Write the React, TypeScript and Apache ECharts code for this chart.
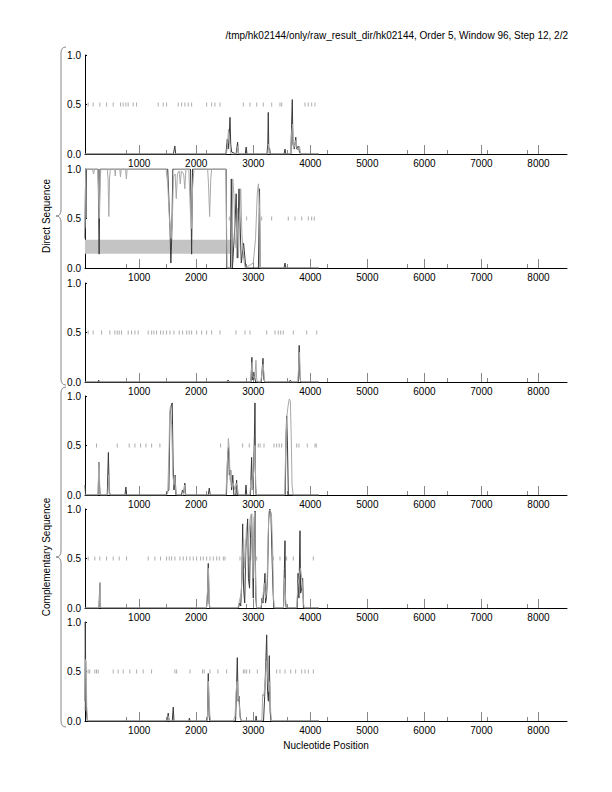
import React, { useEffect, useRef } from "react";
import * as echarts from "echarts";

const titleText = "/tmp/hk02144/only/raw_result_dir/hk02144, Order 5, Window 96, Step 12, 2/2";
const xTitle = "Nucleotide Position";
const groupLabels = ["Direct Sequence", "Complementary Sequence"];
const xMin = 50;
const xMax = 8500;
const majorTicks = [1000, 2000, 3000, 4000, 5000, 6000, 7000, 8000];
const minorTicks = [779, 1481, 2183, 2885, 3587, 4289, 4991, 5693, 6395, 7097, 7799];

const p1Dark = [[50,0],[1600,0],[1625,0.08],[1640,0],[2520,0],[2545,0.15],[2560,0.05],[2580,0.2],[2592,0.37],[2605,0.1],[2620,0.02],[2700,0],[2725,0.12],[2740,0],[2860,0],[2875,0.07],[2890,0],[3240,0],[3255,0.1],[3263,0.42],[3272,0.05],[3285,0.06],[3300,0],[3540,0],[3556,0.05],[3570,0],[3660,0],[3672,0.3],[3684,0.55],[3695,0.1],[3720,0.05],[3745,0.17],[3760,0.05],[3790,0.08],[3810,0.02],[3830,0],[4150,0]];
const p1Light = [[50,0],[2530,0],[2550,0.1],[2565,0.25],[2585,0.12],[2600,0.03],[2610,0],[2710,0],[2730,0.08],[2745,0],[3260,0],[3268,0.1],[3280,0.04],[3290,0],[3650,0],[3670,0.2],[3690,0.3],[3705,0.05],[3730,0.1],[3750,0.14],[3770,0.04],[3790,0.06],[3810,0.08],[3830,0],[4150,0]];
const p1Marks = [105,193,310,428,544,673,719,767,807,895,954,1333,1421,1480,1684,1743,1802,1860,1919,2182,2270,2328,2416,2825,2942,3060,3175,3323,3468,3498,3907,3965,4024,4082];

const p2Dark = [[50,0.3],[58,0.8],[66,0.5],[75,1.0],[280,1.0],[298,0.14],[312,1.0],[1500,1.0],[1540,0.4],[1555,0.05],[1570,0.3],[1590,1.0],[1900,1.0],[1919,0.14],[1935,1.0],[2525,1.0],[2533,0.0],[2600,0.0],[2615,0.9],[2635,0.0],[2680,0.45],[2700,0.75],[2720,0.1],[2750,0.8],[2790,0.05],[2830,0.25],[2870,0.0],[3090,0.0],[3110,0.8],[3120,0.0],[3540,0],[3556,0.05],[3570,0],[4150,0]];
const p2Light = [[50,0.4],[62,1.0],[180,1.0],[200,0.95],[220,1.0],[270,1.0],[285,0.85],[298,0.5],[315,0.9],[330,1.0],[440,1.0],[455,0.9],[468,0.52],[480,0.9],[495,1.0],[570,1.0],[580,0.93],[590,1.0],[660,1.0],[672,0.92],[684,1.0],[760,1.0],[775,0.9],[790,1.0],[1470,1.0],[1500,0.85],[1530,0.5],[1560,0.3],[1580,0.45],[1600,0.92],[1630,0.95],[1650,0.7],[1670,0.95],[1700,0.98],[1720,0.85],[1740,0.98],[1780,0.95],[1800,0.8],[1820,1.0],[1870,1.0],[1895,0.6],[1915,0.4],[1935,0.8],[1960,1.0],[2200,1.0],[2215,0.85],[2235,0.52],[2255,0.9],[2270,1.0],[2520,1.0],[2540,0.0],[2620,0.0],[2640,0.9],[2660,0.75],[2680,0.3],[2700,0.2],[2720,0.6],[2740,0.1],[2760,0.5],[2780,0.8],[2800,0.35],[2830,0.1],[2860,0.0],[3000,0.05],[3040,0.3],[3070,0.75],[3090,0.85],[3110,0.6],[3125,0.0],[4150,0]];
const p2Marks = [2580,2737,2884,3147,3322,3614,3731,3849,3965,4024,4070];
const p2Band = [[50, 0.143], [2630, 0.286]];

const p3Dark = [[50,0],[280,0],[290,0.02],[300,0],[2540,0],[2560,0.02],[2580,0],[2960,0],[2975,0.25],[2990,0.02],[3010,0.1],[3040,0.0],[3140,0],[3170,0.24],[3185,0.03],[3200,0],[3630,0],[3650,0.02],[3670,0],[3790,0],[3805,0.37],[3815,0.08],[3830,0],[4150,0]];
const p3Light = [[50,0],[2950,0],[2965,0.1],[2980,0.2],[2995,0.05],[3030,0.05],[3047,0.22],[3060,0.03],[3080,0],[3130,0],[3150,0.08],[3170,0.18],[3185,0.1],[3200,0],[3780,0],[3800,0.2],[3812,0.3],[3825,0.02],[3840,0],[4150,0]];
const p3Marks = [105,193,340,486,574,615,650,690,807,866,925,982,1158,1218,1258,1305,1375,1421,1480,1539,1609,1702,1761,1832,1877,1919,2007,2095,2182,2270,2416,2696,2854,2942,3235,3381,3439,3481,3526,3702,3937,4112];

const p4Dark = [[50,0.1],[60,0],[280,0],[295,0.33],[305,0.1],[315,0],[440,0],[460,0.43],[475,0.05],[490,0],[750,0],[767,0.08],[780,0],[1470,0],[1490,0.03],[1520,0.05],[1540,0.8],[1560,0.9],[1579,0.93],[1595,0.3],[1610,0.05],[1630,0.2],[1645,0],[1740,0],[1760,0.05],[1780,0.02],[1800,0.12],[1815,0],[2210,0],[2229,0.07],[2245,0],[2530,0],[2550,0.4],[2565,0.48],[2580,0.2],[2600,0.25],[2620,0.05],[2640,0.2],[2660,0],[2695,0],[2708,0.15],[2720,0],[2860,0],[2872,0.1],[2885,0],[2950,0],[2971,0.38],[2985,0.05],[3000,0.1],[3020,0.6],[3030,0.93],[3040,0.1],[3050,0],[3560,0],[3575,0.6],[3585,0.8],[3600,0.5],[3615,0.0],[4150,0]];
const p4Light = [[50,0],[280,0],[290,0.3],[300,0.33],[310,0],[450,0],[465,0.2],[480,0],[1480,0],[1500,0.02],[1525,0.5],[1535,0.85],[1550,0.9],[1570,0.7],[1590,0.2],[1610,0.1],[1625,0.19],[1640,0.05],[1660,0],[1780,0],[1795,0.1],[1810,0],[2520,0],[2545,0.3],[2563,0.57],[2580,0.45],[2595,0.15],[2610,0.25],[2625,0.08],[2650,0.12],[2680,0.05],[2700,0.12],[2720,0.08],[2740,0],[2940,0],[2960,0.15],[2980,0.05],[3010,0.25],[3030,0.5],[3045,0.05],[3060,0],[3550,0],[3570,0.5],[3590,0.8],[3610,0.9],[3630,0.97],[3650,0.95],[3665,0.6],[3680,0.1],[3700,0],[4150,0]];
const p4Marks = [252,615,825,925,1024,1118,1218,1363,2427,2814,2930,3088,3120,3188,3363,3410,3455,3498,3596,3761,3800,3947,4082,4105];

const p5Dark = [[50,0],[295,0],[310,0.25],[320,0],[2180,0],[2195,0.1],[2211,0.45],[2225,0.05],[2240,0],[2740,0],[2760,0.05],[2780,0.02],[2800,0.3],[2814,0.85],[2830,0.2],[2850,0.05],[2870,0.6],[2901,0.9],[2915,0.3],[2935,0.2],[2950,0.7],[2971,0.95],[2985,0.5],[3000,0.1],[3015,0.7],[3030,0.98],[3045,0.1],[3060,0],[3140,0],[3153,0.1],[3170,0.05],[3190,0.2],[3205,0.35],[3215,0.05],[3230,0.1],[3250,0.3],[3270,0.9],[3290,1.0],[3310,0.95],[3330,0.5],[3345,0.2],[3360,0],[3530,0],[3545,0.4],[3556,0.68],[3565,0.05],[3580,0],[3770,0],[3785,0.35],[3800,0.1],[3819,0.78],[3830,0.15],[3850,0.2],[3866,0.3],[3880,0],[4150,0]];
const p5Light = [[50,0],[295,0],[305,0.1],[312,0.26],[325,0],[2180,0],[2200,0.2],[2215,0.4],[2230,0.05],[2240,0],[2730,0],[2760,0.08],[2790,0.15],[2810,0.5],[2830,0.7],[2850,0.4],[2880,0.8],[2900,0.6],[2920,0.7],[2945,0.9],[2965,0.95],[2980,0.6],[2995,0.3],[3010,0.9],[3025,0.97],[3040,0.3],[3055,0],[3130,0],[3160,0.08],[3195,0.25],[3215,0.1],[3240,0.2],[3260,0.7],[3275,0.98],[3300,0.99],[3320,0.92],[3340,0.6],[3355,0.1],[3370,0],[3530,0],[3550,0.3],[3565,0.1],[3580,0],[3760,0],[3780,0.2],[3800,0.3],[3830,0.4],[3860,0.25],[3880,0.05],[3895,0],[4150,0]];
const p5Marks = [105,222,310,428,544,650,778,1158,1275,1375,1480,1527,1568,1626,1714,1773,1831,1890,1948,2007,2077,2123,2182,2241,2299,2358,2405,2475,2503,2767,2814,2942,3059,3352,3468,3556,3585,3702,4053];

const p6Dark = [[50,0.2],[55,1.0],[62,0.5],[75,0.1],[90,0],[1490,0],[1509,0.08],[1525,0],[1580,0],[1597,0.14],[1610,0],[1870,0],[1880,0.03],[1890,0],[2195,0],[2211,0.48],[2225,0.05],[2240,0],[2690,0],[2705,0.3],[2720,0.64],[2735,0.2],[2750,0.25],[2770,0.05],[2790,0],[3040,0],[3050,0.05],[3060,0],[3180,0],[3200,0.25],[3220,0.6],[3235,0.87],[3250,0.3],[3265,0.2],[3281,0.66],[3295,0.1],[3310,0],[4150,0]];
const p6Light = [[50,0.1],[58,0.62],[70,0.6],[80,0.15],[95,0],[1500,0],[1510,0.05],[1520,0],[2195,0],[2215,0.4],[2235,0.1],[2250,0],[2650,0],[2680,0.05],[2700,0.3],[2715,0.4],[2730,0.3],[2750,0.2],[2770,0.03],[2790,0],[3150,0],[3165,0.27],[3185,0.25],[3210,0.4],[3230,0.6],[3250,0.5],[3270,0.3],[3290,0.4],[3305,0.1],[3320,0],[4150,0]];
const p6Marks = [105,134,222,252,281,544,632,720,836,954,1070,1217,1626,1656,1890,2111,2140,2241,2380,2533,2826,2853,2884,2936,3071,3410,3468,3556,3656,3743,3849,3907,3966,4053];

const panels = [
  { dark: p1Dark, light: p1Light, marks: p1Marks },
  { dark: p2Dark, light: p2Light, marks: p2Marks },
  { dark: p3Dark, light: p3Light, marks: p3Marks },
  { dark: p4Dark, light: p4Light, marks: p4Marks },
  { dark: p5Dark, light: p5Light, marks: p5Marks },
  { dark: p6Dark, light: p6Light, marks: p6Marks },
];

const FONT = "'Liberation Sans', Arial, Helvetica, sans-serif";
const gridTops = [55, 169, 283, 396, 509, 622];
const gridHeight = 99;
const gridLeft = 85;
const gridWidth = 482;

function bracePath(x: number, y0: number, y1: number) {
  const m = (y0 + y1) / 2;
  return `M${x + 5},${y0} Q${x},${y0} ${x},${y0 + 6} L${x},${m - 6} Q${x},${m} ${x - 5},${m} Q${x},${m} ${x},${m + 6} L${x},${y1 - 6} Q${x},${y1} ${x + 5},${y1}`;
}

export default function App() {
  const ref = useRef<HTMLDivElement>(null);
  useEffect(() => {
    if (!ref.current) return;
    echarts.graphic.registerShape("brace1", echarts.graphic.extendPath(bracePath(61, 47, 385), {}));
    echarts.graphic.registerShape("brace2", echarts.graphic.extendPath(bracePath(61, 387, 727), {}));
    const chart = echarts.init(ref.current, null, { renderer: "svg" });

    const grids: any[] = [];
    const xAxes: any[] = [];
    const yAxes: any[] = [];
    const series: any[] = [];
    panels.forEach((p, i) => {
      grids.push({ left: gridLeft, top: gridTops[i], width: gridWidth, height: gridHeight });
      xAxes.push({
        type: "value", gridIndex: i, min: xMin, max: xMax, position: "bottom",
        axisLine: { show: true, onZero: false, lineStyle: { color: "#000", width: 1 } },
        axisTick: { show: true, inside: true, length: 9, customValues: majorTicks, lineStyle: { color: "#888", width: 1 } },
        axisLabel: { show: true, customValues: majorTicks, fontSize: 10, color: "#000", fontFamily: FONT, margin: 4, formatter: (v: number) => String(v) },
        splitLine: { show: false },
      });
      xAxes.push({
        type: "value", gridIndex: i, min: xMin, max: xMax, position: "bottom", offset: 0,
        axisLine: { show: false },
        axisTick: { show: true, inside: true, length: 4, customValues: minorTicks, lineStyle: { color: "#888", width: 1 } },
        axisLabel: { show: false },
        splitLine: { show: false },
      });
      yAxes.push({
        type: "value", gridIndex: i, min: 0, max: 1, interval: 0.5,
        axisLine: { show: true, lineStyle: { color: "#000", width: 1 } },
        axisTick: { show: true, inside: true, length: 2, lineStyle: { color: "#000" } },
        axisLabel: { fontSize: 10, color: "#000", fontFamily: FONT, margin: 4, formatter: (v: number) => v.toFixed(1) },
        splitLine: { show: false },
      });
      const darkSeries: any = {
        type: "line", xAxisIndex: i * 2, yAxisIndex: i, data: p.dark, showSymbol: false, symbol: "none",
        lineStyle: { color: "#3a3a3a", width: 1 }, z: 3, silent: true,
      };
      if (i === 1) {
        darkSeries.markArea = {
          silent: true,
          itemStyle: { color: "#c4c4c4" },
          data: [[{ coord: p2Band[0] }, { coord: p2Band[1] }]],
        };
      }
      series.push({
        type: "scatter", xAxisIndex: i * 2, yAxisIndex: i, data: p.marks.map((m) => [m, 0.5]),
        symbol: "rect", symbolSize: [1, 4], itemStyle: { color: "#999" }, z: 2, silent: true,
      });
      series.push(darkSeries);
      series.push({
        type: "line", xAxisIndex: i * 2, yAxisIndex: i, data: p.light, showSymbol: false, symbol: "none",
        lineStyle: { color: "#a8a8a8", width: 1 }, z: 4, silent: true,
      });
    });

    chart.setOption({
      animation: false,
      backgroundColor: "#fff",
      grid: grids,
      xAxis: xAxes,
      yAxis: yAxes,
      series,
      graphic: [
        { type: "text", right: 44, top: 30, style: { text: titleText, fontSize: 10, fontFamily: FONT, fill: "#000" } },
        { type: "text", x: 326, y: 745, style: { text: xTitle, fontSize: 10, fontFamily: FONT, fill: "#000", align: "center", verticalAlign: "middle" } },
        { type: "text", x: 46, y: 216, rotation: Math.PI / 2, style: { text: groupLabels[0], fontSize: 10, fontFamily: FONT, fill: "#000", align: "center", verticalAlign: "middle" } },
        { type: "text", x: 46, y: 557, rotation: Math.PI / 2, style: { text: groupLabels[1], fontSize: 10, fontFamily: FONT, fill: "#000", align: "center", verticalAlign: "middle" } },
        { type: "brace1", x: 0, y: 0, style: { stroke: "#888", lineWidth: 1, fill: null } },
        { type: "brace2", x: 0, y: 0, style: { stroke: "#888", lineWidth: 1, fill: null } },
      ],
    });
    return () => chart.dispose();
  }, []);
  return <div ref={ref} style={{ position: "absolute", left: 0, top: 0, width: 612, height: 792 }} />;
}
